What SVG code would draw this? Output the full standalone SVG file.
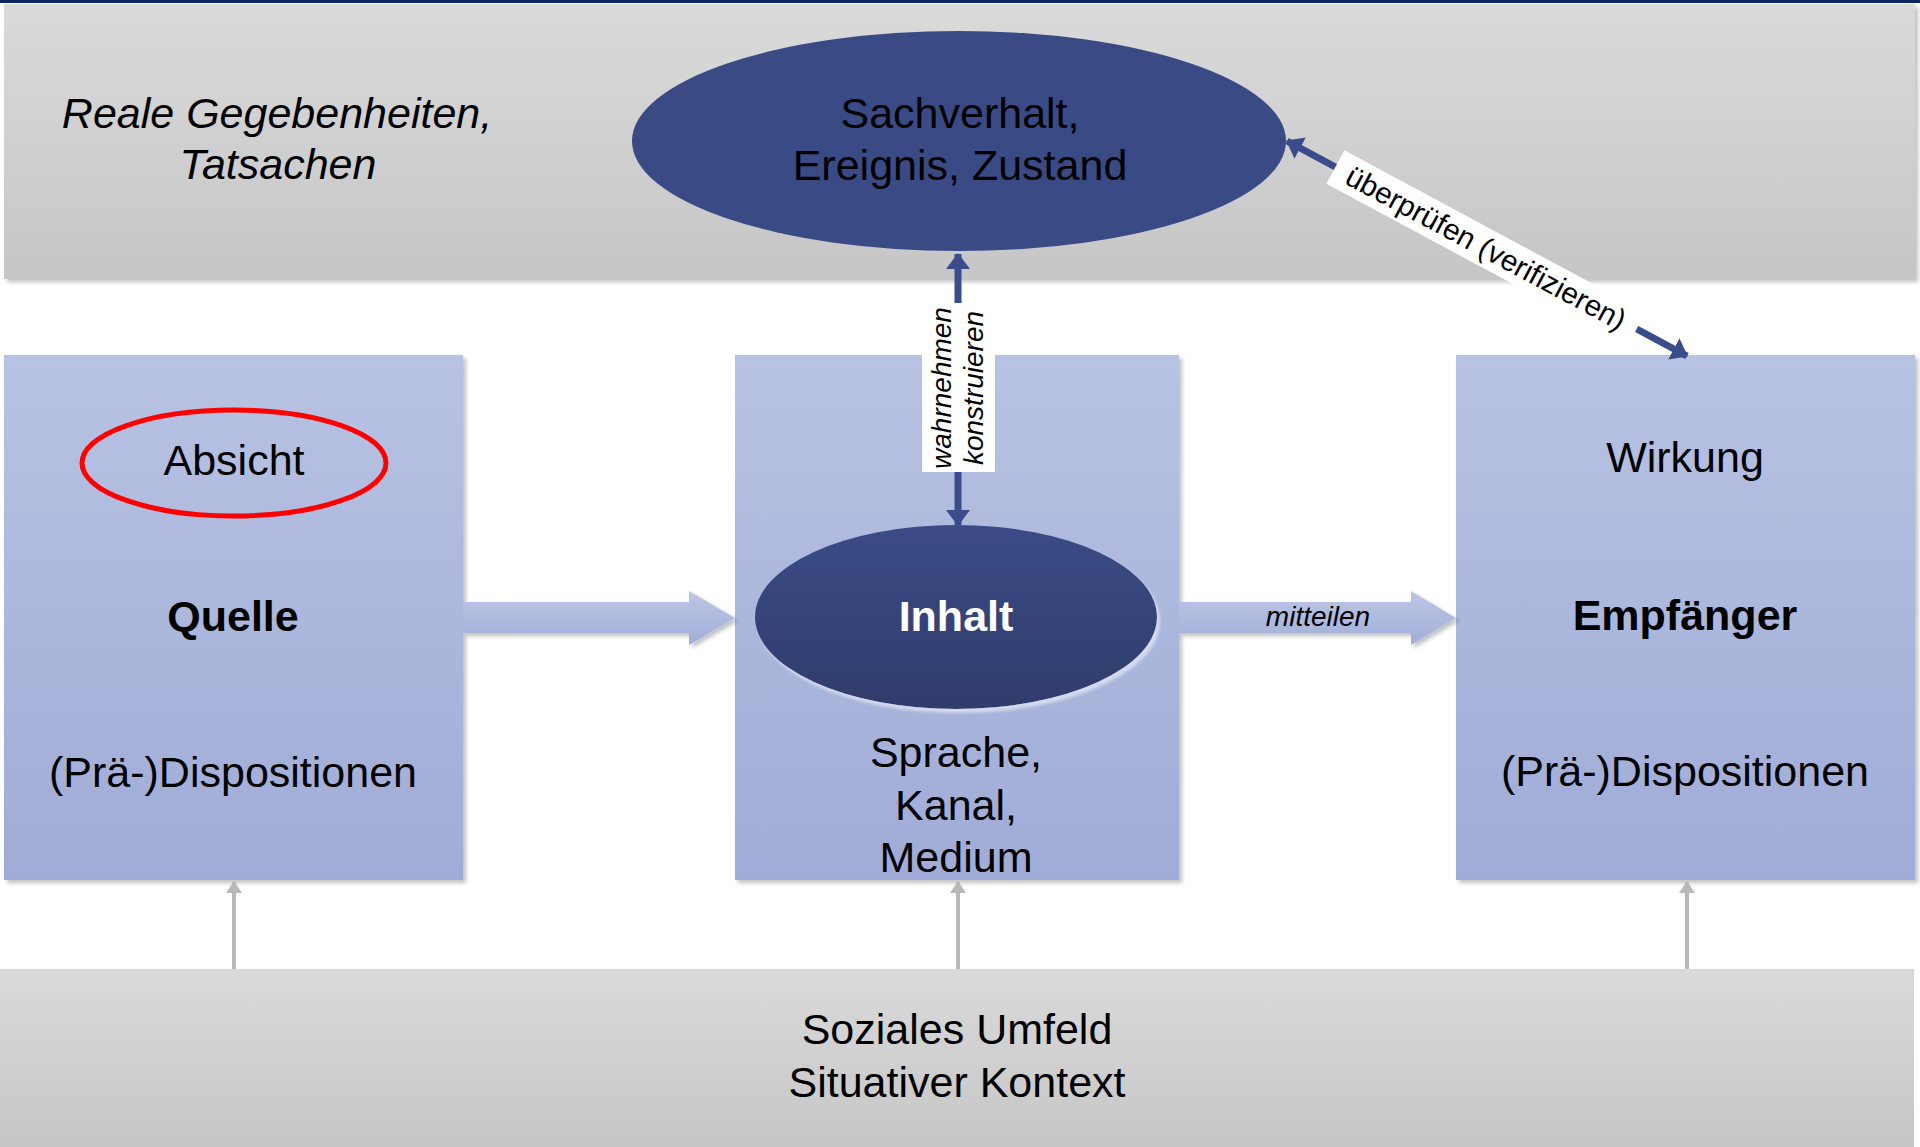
<svg xmlns="http://www.w3.org/2000/svg" width="1920" height="1147" viewBox="0 0 1920 1147">
  <style>
    .t { font-family: "Liberation Sans", Arial, sans-serif; font-size: 43px; fill: #000; text-anchor: middle; }
    .b { font-weight: bold; }
    .i { font-style: italic; }
    .small { font-size: 28px; }
    .diag { font-size: 29.5px; }
    .white { fill: #fff; }
    .blueline { stroke: #3a4c8c; stroke-width: 7; fill: none; }
    .grayline { stroke: #b8b8b8; stroke-width: 4; fill: none; }
  </style>
  <defs>
    <linearGradient id="gGray" x1="0" y1="0" x2="0" y2="1">
      <stop offset="0" stop-color="#dadada"/>
      <stop offset="1" stop-color="#c6c6c6"/>
    </linearGradient>
    <linearGradient id="gBox" x1="0" y1="0" x2="0" y2="1">
      <stop offset="0" stop-color="#b8c2e2"/>
      <stop offset="1" stop-color="#a0acd7"/>
    </linearGradient>
    <linearGradient id="gArrow" x1="0" y1="0" x2="0" y2="1">
      <stop offset="0" stop-color="#bdc6e5"/>
      <stop offset="1" stop-color="#a2aed8"/>
    </linearGradient>
    <linearGradient id="gInhalt" x1="0" y1="0" x2="0" y2="1">
      <stop offset="0" stop-color="#3b4b86"/>
      <stop offset="1" stop-color="#2f3c6c"/>
    </linearGradient>
    <filter id="shadow" x="-5%" y="-5%" width="115%" height="115%">
      <feGaussianBlur in="SourceAlpha" stdDeviation="2"/>
      <feOffset dx="3" dy="3" result="o"/>
      <feComponentTransfer><feFuncA type="linear" slope="0.25"/></feComponentTransfer>
      <feMerge><feMergeNode/><feMergeNode in="SourceGraphic"/></feMerge>
    </filter>
    <filter id="glow" x="-5%" y="-5%" width="115%" height="115%">
      <feGaussianBlur in="SourceAlpha" stdDeviation="1.5"/>
      <feOffset dx="3" dy="4"/>
      <feComponentTransfer><feFuncA type="linear" slope="0.6"/></feComponentTransfer>
      <feColorMatrix type="matrix" values="0 0 0 0 0.88  0 0 0 0 0.9  0 0 0 0 0.96  0 0 0 1 0"/>
      <feMerge><feMergeNode/><feMergeNode in="SourceGraphic"/></feMerge>
    </filter>
    <marker id="headBlue" viewBox="0 0 16 24" refX="15" refY="12" markerUnits="userSpaceOnUse" markerWidth="16" markerHeight="24" orient="auto-start-reverse">
      <path d="M0,0 L16,12 L0,24 Z" fill="#3a4c8c"/>
    </marker>
    <marker id="headGray" viewBox="0 0 12 16" refX="11" refY="8" markerUnits="userSpaceOnUse" markerWidth="12" markerHeight="16" orient="auto">
      <path d="M0,0 L12,8 L0,16 Z" fill="#b8b8b8"/>
    </marker>
  </defs>

  <rect width="1920" height="1147" fill="#fff"/>
  <!-- top rule -->
  <rect x="0" y="0" width="1920" height="3" fill="#0b2463"/>

  <!-- reality band -->
  <g id="reality">
    <rect x="4" y="4" width="1911" height="275" fill="url(#gGray)" filter="url(#shadow)"/>
    <text class="t i" x="277" y="128">Reale Gegebenheiten,</text>
    <text class="t i" x="278" y="179">Tatsachen</text>
  </g>

  <!-- social context band -->
  <g id="context">
    <rect x="0" y="969" width="1914" height="178" fill="url(#gGray)"/>
    <text class="t" x="957" y="1044">Soziales Umfeld</text>
    <text class="t" x="957" y="1097">Situativer Kontext</text>
  </g>

  <!-- source -->
  <g id="quelle">
    <rect x="4" y="355" width="459" height="525" fill="url(#gBox)" filter="url(#shadow)"/>
    <ellipse cx="234" cy="463" rx="152" ry="53" fill="none" stroke="#f00" stroke-width="5"/>
    <text class="t" x="234" y="475">Absicht</text>
    <text class="t b" x="233" y="631">Quelle</text>
    <text class="t" x="233" y="787">(Prä-)Dispositionen</text>
  </g>

  <!-- medium -->
  <g id="medium">
    <rect x="735" y="355" width="444" height="525" fill="url(#gBox)" filter="url(#shadow)"/>
    <text class="t" x="956" y="767">Sprache,</text>
    <text class="t" x="956" y="820">Kanal,</text>
    <text class="t" x="956" y="872">Medium</text>
  </g>

  <!-- receiver -->
  <g id="empfaenger">
    <rect x="1456" y="355" width="459" height="525" fill="url(#gBox)" filter="url(#shadow)"/>
    <text class="t" x="1685" y="472">Wirkung</text>
    <text class="t b" x="1685" y="630">Empfänger</text>
    <text class="t" x="1685" y="786">(Prä-)Dispositionen</text>
  </g>

  <!-- fact -->
  <g id="sachverhalt">
    <ellipse cx="959" cy="141" rx="327" ry="110" fill="#3a4a85"/>
    <text class="t" x="960" y="128">Sachverhalt,</text>
    <text class="t" x="960" y="180">Ereignis, Zustand</text>
  </g>

  <!-- content -->
  <g id="inhalt">
    <ellipse cx="956" cy="617" rx="201" ry="92" fill="url(#gInhalt)" filter="url(#glow)"/>
    <text class="t b white" x="956" y="631">Inhalt</text>
  </g>

  <!-- connectors -->
  <g id="connectors">
    <!-- source to content -->
    <polygon points="463,602 689,602 689,591 735,618 689,645 689,633 463,633" fill="url(#gArrow)" filter="url(#shadow)"/>
    <!-- content to receiver -->
    <polygon points="1179,602 1411,602 1411,591 1456,618 1411,645 1411,633 1179,633" fill="url(#gArrow)" filter="url(#shadow)"/>
    <text class="t i small" x="1318" y="626">mitteilen</text>

    <!-- perceive / construct -->
    <line class="blueline" x1="958" y1="254" x2="958" y2="525" marker-start="url(#headBlue)" marker-end="url(#headBlue)"/>
    <rect x="922" y="303" width="73" height="169" fill="#fff"/>
    <text class="t i small" transform="translate(951,388) rotate(-90)">wahrnehmen</text>
    <text class="t i small" transform="translate(983,388) rotate(-90)">konstruieren</text>

    <!-- verify -->
    <line class="blueline" x1="1287" y1="141" x2="1687" y2="356" marker-start="url(#headBlue)" marker-end="url(#headBlue)"/>
    <g transform="translate(1486,248) rotate(28.26)">
      <rect x="-171" y="-19" width="342" height="38" fill="#fff"/>
      <text class="t diag" x="0" y="10">überprüfen (verifizieren)</text>
    </g>

    <!-- context influences -->
    <line class="grayline" x1="234" y1="969" x2="234" y2="882" marker-end="url(#headGray)"/>
    <line class="grayline" x1="958" y1="969" x2="958" y2="882" marker-end="url(#headGray)"/>
    <line class="grayline" x1="1687" y1="969" x2="1687" y2="882" marker-end="url(#headGray)"/>
  </g>
</svg>
